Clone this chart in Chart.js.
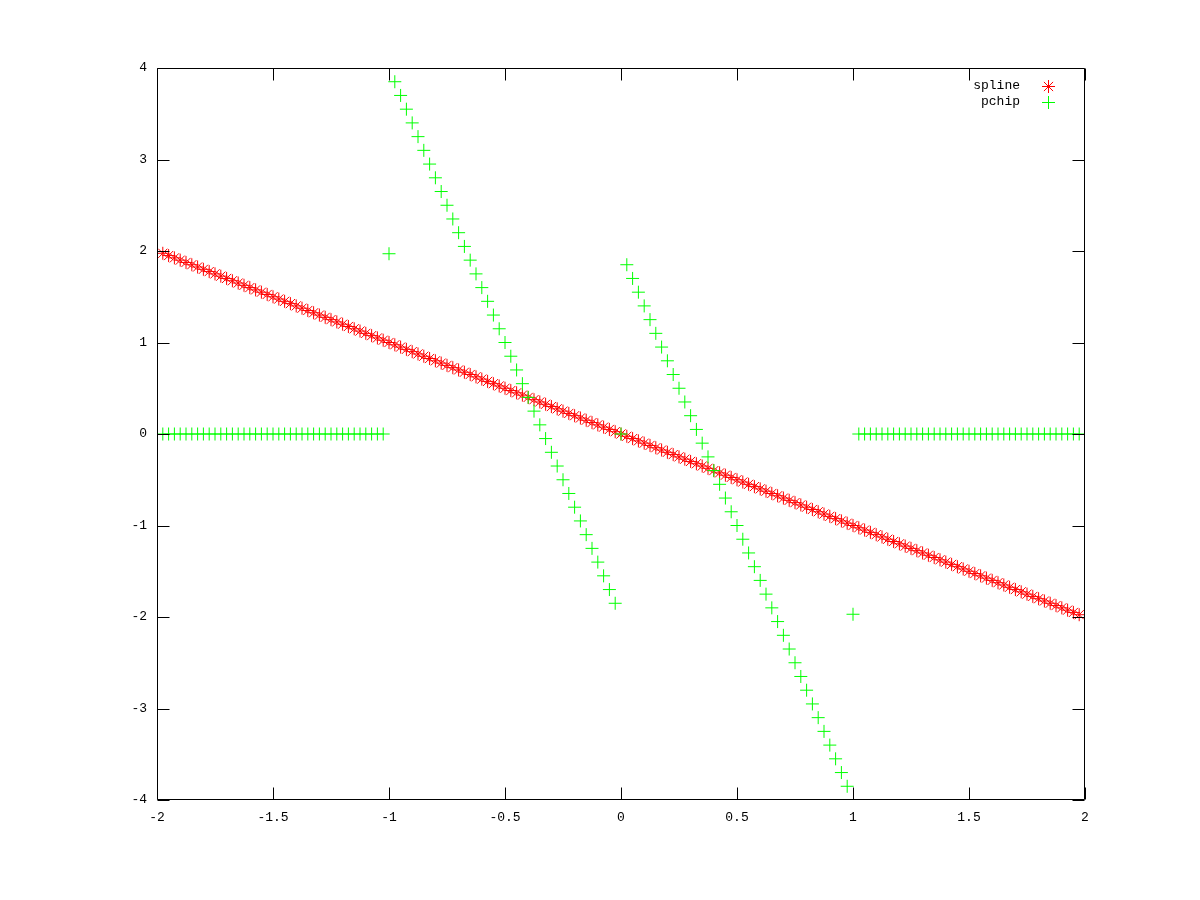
<!DOCTYPE html>
<html>
<head>
<meta charset="utf-8">
<script src="https://cdn.jsdelivr.net/npm/chart.js@4/dist/chart.umd.min.js"></script>
<style>
html,body{margin:0;padding:0;background:#fff;}
#c{display:block;}
</style>
</head>
<body>
<canvas id="c" width="1200" height="900"></canvas>
<script>
const xValues = [
-1.975,-1.95,-1.925,-1.9,-1.875,-1.85,-1.825,-1.8,-1.775,-1.75,-1.725,-1.7,-1.675,-1.65,-1.625,-1.6,-1.575,-1.55,-1.525,-1.5,
-1.475,-1.45,-1.425,-1.4,-1.375,-1.35,-1.325,-1.3,-1.275,-1.25,-1.225,-1.2,-1.175,-1.15,-1.125,-1.1,-1.075,-1.05,-1.025,-1,
-0.975,-0.95,-0.925,-0.9,-0.875,-0.85,-0.825,-0.8,-0.775,-0.75,-0.725,-0.7,-0.675,-0.65,-0.625,-0.6,-0.575,-0.55,-0.525,-0.5,
-0.475,-0.45,-0.425,-0.4,-0.375,-0.35,-0.325,-0.3,-0.275,-0.25,-0.225,-0.2,-0.175,-0.15,-0.125,-0.1,-0.075,-0.05,-0.025,0,
0.025,0.05,0.075,0.1,0.125,0.15,0.175,0.2,0.225,0.25,0.275,0.3,0.325,0.35,0.375,0.4,0.425,0.45,0.475,0.5,
0.525,0.55,0.575,0.6,0.625,0.65,0.675,0.7,0.725,0.75,0.775,0.8,0.825,0.85,0.875,0.9,0.925,0.95,0.975,1,
1.025,1.05,1.075,1.1,1.125,1.15,1.175,1.2,1.225,1.25,1.275,1.3,1.325,1.35,1.375,1.4,1.425,1.45,1.475,1.5,
1.525,1.55,1.575,1.6,1.625,1.65,1.675,1.7,1.725,1.75,1.775,1.8,1.825,1.85,1.875,1.9,1.925,1.95,1.975
];
const splineValues = [
1.975,1.95,1.925,1.9,1.875,1.85,1.825,1.8,1.775,1.75,1.725,1.7,1.675,1.65,1.625,1.6,1.575,1.55,1.525,1.5,
1.475,1.45,1.425,1.4,1.375,1.35,1.325,1.3,1.275,1.25,1.225,1.2,1.175,1.15,1.125,1.1,1.075,1.05,1.025,1,
0.975,0.95,0.925,0.9,0.875,0.85,0.825,0.8,0.775,0.75,0.725,0.7,0.675,0.65,0.625,0.6,0.575,0.55,0.525,0.5,
0.475,0.45,0.425,0.4,0.375,0.35,0.325,0.3,0.275,0.25,0.225,0.2,0.175,0.15,0.125,0.1,0.075,0.05,0.025,0,
-0.025,-0.05,-0.075,-0.1,-0.125,-0.15,-0.175,-0.2,-0.225,-0.25,-0.275,-0.3,-0.325,-0.35,-0.375,-0.4,-0.425,-0.45,-0.475,-0.5,
-0.525,-0.55,-0.575,-0.6,-0.625,-0.65,-0.675,-0.7,-0.725,-0.75,-0.775,-0.8,-0.825,-0.85,-0.875,-0.9,-0.925,-0.95,-0.975,-1,
-1.025,-1.05,-1.075,-1.1,-1.125,-1.15,-1.175,-1.2,-1.225,-1.25,-1.275,-1.3,-1.325,-1.35,-1.375,-1.4,-1.425,-1.45,-1.475,-1.5,
-1.525,-1.55,-1.575,-1.6,-1.625,-1.65,-1.675,-1.7,-1.725,-1.75,-1.775,-1.8,-1.825,-1.85,-1.875,-1.9,-1.925,-1.95,-1.975
];
const pchipValues = [
0,0,0,0,0,0,0,0,0,0,0,0,0,0,0,0,0,0,0,0,
0,0,0,0,0,0,0,0,0,0,0,0,0,0,0,0,0,0,0,1.97,
3.85,3.7,3.55,3.4,3.25,3.1,2.95,2.8,2.65,2.5,2.35,2.2,2.05,1.9,1.75,1.6,1.45,1.3,1.15,1.0,
0.85,0.7,0.55,0.4,0.25,0.1,-0.05,-0.2,-0.35,-0.5,-0.65,-0.8,-0.95,-1.1,-1.25,-1.4,-1.55,-1.7,-1.85,0,
1.85,1.7,1.55,1.4,1.25,1.1,0.95,0.8,0.65,0.5,0.35,0.2,0.05,-0.1,-0.25,-0.4,-0.55,-0.7,-0.85,-1.0,
-1.15,-1.3,-1.45,-1.6,-1.75,-1.9,-2.05,-2.2,-2.35,-2.5,-2.65,-2.8,-2.95,-3.1,-3.25,-3.4,-3.55,-3.7,-3.85,-1.97,
0,0,0,0,0,0,0,0,0,0,0,0,0,0,0,0,0,0,0,0,
0,0,0,0,0,0,0,0,0,0,0,0,0,0,0,0,0,0,0
];
const seriesNames = ["spline", "pchip"];
const xTicks = [-2, -1.5, -1, -0.5, 0, 0.5, 1, 1.5, 2];
const yTicks = [-4, -3, -2, -1, 0, 1, 2, 3, 4];

const FONT = '"Liberation Mono", "DejaVu Sans Mono", monospace';
const RED = '#ff0000';
const GREEN = '#00ff00';

const toPoints = (ys) => xValues.map((x, i) => ({x: x, y: ys[i]}));

const frame = {
  id: 'gnuplotFrame',
  afterDatasetsDraw(chart) {
    const ctx = chart.ctx;
    const a = chart.chartArea;
    const xs = chart.scales.x, ys = chart.scales.y;
    const L = Math.round(a.left) + 0.5, R = Math.round(a.right) - 0.5;
    const T = Math.round(a.top) + 0.5, B = Math.round(a.bottom) - 0.5;
    ctx.save();
    ctx.strokeStyle = '#000';
    ctx.lineWidth = 1;
    ctx.beginPath();
    ctx.rect(L, T, R - L, B - T);
    const tl = 12;
    xTicks.forEach(v => {
      const px = Math.round(xs.getPixelForValue(v)) + 0.5;
      ctx.moveTo(px, B); ctx.lineTo(px, B - tl);
      ctx.moveTo(px, T); ctx.lineTo(px, T + tl);
    });
    yTicks.forEach(v => {
      const py = Math.round(ys.getPixelForValue(v)) + 0.5;
      ctx.moveTo(L, py); ctx.lineTo(L + tl, py);
      ctx.moveTo(R, py); ctx.lineTo(R - tl, py);
    });
    ctx.stroke();

    // legend
    ctx.font = '13px ' + FONT;
    ctx.fillStyle = '#000';
    ctx.textAlign = 'right';
    ctx.textBaseline = 'middle';
    const entries = [
      {name: seriesNames[0], color: RED, style: 'star', y: 86},
      {name: seriesNames[1], color: GREEN, style: 'cross', y: 102}
    ];
    entries.forEach(e => {
      ctx.fillStyle = '#000';
      ctx.fillText(e.name, 1020, e.y);
      ctx.strokeStyle = e.color;
      ctx.lineWidth = 1;
      Chart.helpers.drawPoint(ctx, {pointStyle: e.style, radius: 6.5, rotation: 0, borderWidth: 1}, 1048.5, e.y + 0.5);
    });
    ctx.restore();
  }
};

new Chart(document.getElementById('c'), {
  type: 'scatter',
  data: {
    datasets: [
      {
        label: seriesNames[1],
        data: toPoints(pchipValues),
        pointStyle: 'cross',
        pointRadius: 6.5,
        pointBorderWidth: 1,
        borderColor: GREEN,
        backgroundColor: GREEN,
        showLine: false,
        order: 0
      },
      {
        label: seriesNames[0],
        data: toPoints(splineValues),
        pointStyle: 'star',
        pointRadius: 6.5,
        pointBorderWidth: 1,
        borderColor: RED,
        backgroundColor: RED,
        showLine: false,
        order: 1
      }
    ]
  },
  options: {
    responsive: false,
    animation: false,
    events: [],
    layout: {padding: {left: 0, right: 115, top: 68, bottom: 0}},
    plugins: {legend: {display: false}, tooltip: {enabled: false}},
    scales: {
      x: {
        type: 'linear',
        min: -2, max: 2,
        afterBuildTicks: (s) => { s.ticks = xTicks.map(v => ({value: v})); },
        afterFit: (s) => { s.height = 100; },
        grid: {display: false, drawTicks: false},
        border: {display: false},
        ticks: {
          padding: 10,
          color: '#000',
          font: {family: FONT, size: 13},
          maxRotation: 0,
          callback: (v) => String(v)
        }
      },
      y: {
        type: 'linear',
        min: -4, max: 4,
        afterBuildTicks: (s) => { s.ticks = yTicks.map(v => ({value: v})); },
        afterFit: (s) => { s.width = 157; },
        grid: {display: false, drawTicks: false},
        border: {display: false},
        ticks: {
          padding: 10,
          color: '#000',
          font: {family: FONT, size: 13},
          callback: (v) => String(v)
        }
      }
    }
  },
  plugins: [frame]
});
</script>
</body>
</html>
